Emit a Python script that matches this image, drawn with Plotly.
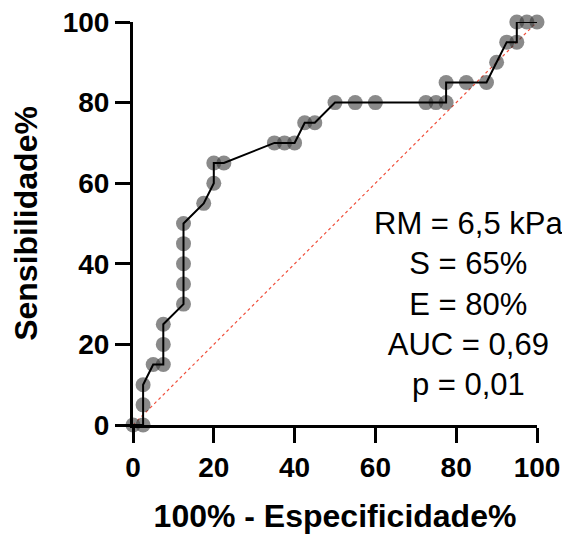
import plotly.graph_objects as go

# ROC curve points: 100% - Especificidade% (x) and Sensibilidade% (y)
spec_x = [0, 2.5, 2.5, 2.5, 5, 7.5, 7.5, 7.5, 12.5, 12.5, 12.5, 12.5, 12.5,
          17.5, 20, 20, 22.5, 35, 37.5, 40, 42.5, 45, 50, 55, 60, 72.5, 75,
          77.5, 77.5, 82.5, 87.5, 90, 92.5, 95, 95, 97.5, 100]
sens_y = [0, 0, 5, 10, 15, 15, 20, 25, 30, 35, 40, 45, 50,
          55, 60, 65, 65, 70, 70, 70, 75, 75, 80, 80, 80, 80, 80,
          80, 85, 85, 85, 90, 95, 95, 100, 100, 100]
ref_x = [0, 100]
ref_y = [0, 100]
x_ticks = [0, 20, 40, 60, 80, 100]
y_ticks = [0, 20, 40, 60, 80, 100]
stats_lines = ["RM = 6,5 kPa", "S = 65%", "E = 80%", "AUC = 0,69", "p = 0,01"]

FONT = "Arial, Liberation Sans, Helvetica, sans-serif"

fig = go.Figure()
fig.add_trace(go.Scatter(x=ref_x, y=ref_y, mode="lines",
                         line=dict(color="#f0503c", width=1.2, dash="dot"),
                         hoverinfo="skip", showlegend=False, cliponaxis=False))
fig.add_trace(go.Scatter(x=spec_x, y=sens_y, mode="markers",
                         marker=dict(size=15, color="rgba(60,60,60,0.6)", line=dict(width=0)),
                         showlegend=False, cliponaxis=False))
fig.add_trace(go.Scatter(x=spec_x, y=sens_y, mode="lines",
                         line=dict(color="black", width=2),
                         showlegend=False, cliponaxis=False))

fig.add_annotation(x=83.0, y=30.1, xref="x", yref="y",
                   text="<br>".join(stats_lines), showarrow=False,
                   xanchor="center", yanchor="middle", align="center",
                   font=dict(family=FONT, size=31, color="black"))

axis_common = dict(range=[0, 100], showgrid=False, zeroline=False, automargin=False,
                   showline=True, linecolor="black", linewidth=3,
                   ticks="outside", ticklen=15, tickwidth=3, tickcolor="black",
                   ticklabeloverflow="allow",
                   tickfont=dict(family=FONT, size=28, color="black", weight="bold"))

fig.update_xaxes(**axis_common, tickvals=x_ticks,
                 title=dict(text="<b>100% - Especificidade%</b>",
                            font=dict(family=FONT, size=32, color="black"), standoff=24))
fig.update_yaxes(**axis_common, tickvals=y_ticks,
                 title=dict(text="<b>Sensibilidade%</b>",
                            font=dict(family=FONT, size=32, color="black"), standoff=18))

fig.update_layout(width=570, height=536,
                  margin=dict(l=125, r=41, t=14, b=119),
                  plot_bgcolor="white", paper_bgcolor="white")

fig.write_html("out.html")
